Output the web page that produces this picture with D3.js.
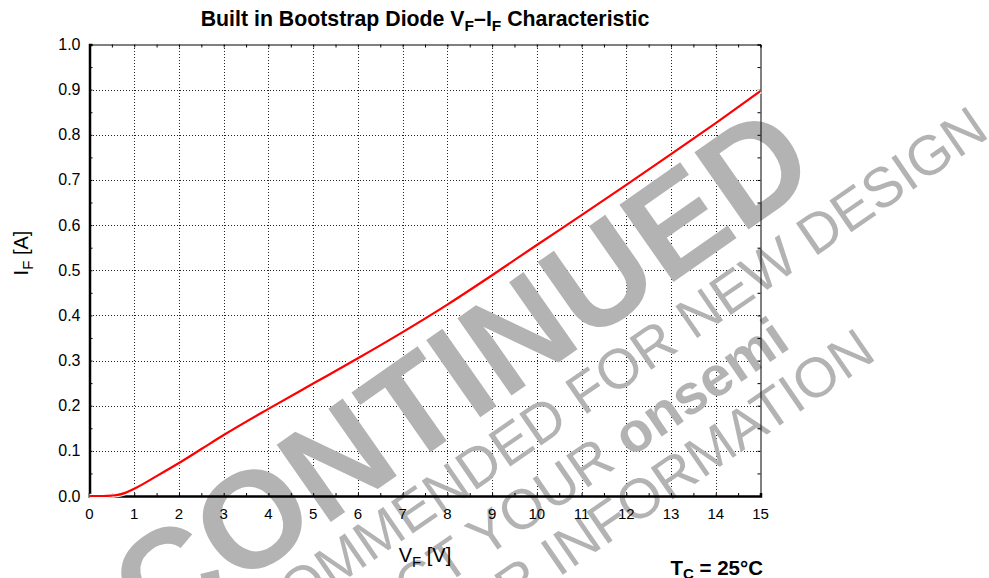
<!DOCTYPE html>
<html lang="en">
<head>
<meta charset="utf-8">
<title>Bootstrap diode VF-IF</title>
<style>
	body { margin: 0; background: #fff; }
	svg { display: block; font-family: "Liberation Sans", Arial, sans-serif; }
	.grid line { stroke: #222; stroke-width: 1; stroke-dasharray: 1,2; shape-rendering: crispEdges; }
	.wm { fill: #b3b3b3; }
</style>
</head>
<body>
<svg></svg>
<script src="https://d3js.org/d3.v7.min.js"></script>
<script>
	// curve
	var vfValues = [0, 0.3, 0.5, 0.6, 0.8, 1, 1.5, 2, 2.5, 3, 4, 5, 6, 7, 8, 9, 10, 11, 12, 13, 14, 15];
	var ifValues = [0, 0, 0.001, 0.002, 0.007, 0.016, 0.044, 0.073, 0.104, 0.135, 0.193, 0.249, 0.305, 0.363, 0.424, 0.489, 0.556, 0.622, 0.689, 0.757, 0.826, 0.897];

	var xTicks = d3.range(0, 16, 1);
	var yTicks = d3.range(0, 1.05, 0.1);
	var xMinor = d3.range(0, 15.01, 0.5);
	var yMinor = d3.range(0, 1.001, 0.05);

	// watermark lines (text, font size, bold, end point, angle)
	var wmLines = [
		{ text: "DISCONTINUED", size: 137, bold: true, x: 822, y: 178, angle: -35 },
		{ text: "NOT RECOMMENDED FOR NEW DESIGN", size: 56, x: 991, y: 136, angle: -34.5 },
		{ text: "CONTACT YOUR ", extra: "onsemi", size: 56, x: 792, y: 347, angle: -34.5 },
		{ text: "REPRESENTATIVE FOR INFORMATION", size: 56, x: 878, y: 358, angle: -34.5 }
	];

	var width = 989, height = 578;
	var margin = { left: 89.5, right: 989 - 760.5, top: 44.5, bottom: 578 - 496 };

	var svg = d3.select("svg").attr("width", width).attr("height", height);

	var x = d3.scaleLinear().domain([0, 15]).range([margin.left, width - margin.right]);
	var y = d3.scaleLinear().domain([0, 1]).range([height - margin.bottom, margin.top]);

	// grid
	var grid = svg.append("g").attr("class", "grid");
	grid.selectAll("line.v")
		.data(xTicks.slice(1, -1))
		.enter().append("line")
		.attr("x1", function(d) { return Math.round(x(d)) + 0.5; })
		.attr("x2", function(d) { return Math.round(x(d)) + 0.5; })
		.attr("y1", y(1)).attr("y2", y(0));
	grid.selectAll("line.h")
		.data(yTicks.slice(1, -1))
		.enter().append("line")
		.attr("y1", function(d) { return Math.round(y(d)) + 0.5; })
		.attr("y2", function(d) { return Math.round(y(d)) + 0.5; })
		.attr("x1", x(0)).attr("x2", x(15));

	// watermark sits over the grid, under axes and curve
	var wm = svg.append("g").attr("class", "wm");
	wmLines.forEach(function(l) {
		var t = wm.append("text")
			.attr("transform", "translate(" + l.x + "," + l.y + ") rotate(" + l.angle + ")")
			.attr("text-anchor", "end")
			.attr("font-size", l.size)
			.attr("font-weight", l.bold ? "bold" : "normal")
			.text(l.text);
		if (l.extra) t.append("tspan").attr("font-weight", "bold").text(l.extra);
	});

	// axes
	var axisBottom = svg.append("g")
		.attr("transform", "translate(0," + y(0) + ")")
		.call(d3.axisBottom(x).tickValues(xMinor).tickSize(-3).tickFormat(""));
	var axisTop = svg.append("g")
		.attr("transform", "translate(0," + y(1) + ")")
		.call(d3.axisTop(x).tickValues(xMinor).tickSize(-3).tickFormat(""));
	var axisLeft = svg.append("g")
		.attr("transform", "translate(" + x(0) + ",0)")
		.call(d3.axisLeft(y).tickValues(yMinor).tickSize(-3).tickFormat(""));
	var axisRight = svg.append("g")
		.attr("transform", "translate(" + x(15) + ",0)")
		.call(d3.axisRight(y).tickValues(yMinor).tickSize(-3).tickFormat(""));

	[axisBottom, axisTop, axisLeft, axisRight].forEach(function(a) {
		a.selectAll(".tick line").attr("stroke", "#000");
		a.select(".domain").attr("stroke", "#000");
	});
	axisBottom.select(".domain").attr("stroke-width", 2.5);
	axisLeft.select(".domain").attr("stroke-width", 2.5);

	// tick labels
	svg.append("g").selectAll("text")
		.data(xTicks)
		.enter().append("text")
		.attr("x", function(d) { return x(d); })
		.attr("y", y(0) + 23)
		.attr("text-anchor", "middle")
		.attr("font-size", 15)
		.text(function(d) { return d; });

	svg.append("g").selectAll("text")
		.data(yTicks)
		.enter().append("text")
		.attr("x", x(0) - 9)
		.attr("y", function(d) { return y(d) + 5.5; })
		.attr("text-anchor", "end")
		.attr("font-size", 16)
		.text(function(d) { return d3.format(".1f")(d); });

	// curve, white halo under red line
	var line = d3.line()
		.x(function(d, i) { return x(vfValues[i]); })
		.y(function(d) { return y(d); })
		.curve(d3.curveMonotoneX);

	svg.append("path")
		.attr("d", line(ifValues))
		.attr("fill", "none")
		.attr("stroke", "#fff")
		.attr("stroke-width", 4.5);
	svg.append("path")
		.attr("d", line(ifValues))
		.attr("fill", "none")
		.attr("stroke", "#ff0000")
		.attr("stroke-width", 2.2);

	// title and labels
	var title = svg.append("text")
		.attr("x", (x(0) + x(15)) / 2)
		.attr("y", 26)
		.attr("text-anchor", "middle")
		.attr("font-size", 21.3)
		.attr("font-weight", "bold");
	title.append("tspan").text("Built in Bootstrap Diode V");
	title.append("tspan").attr("font-size", 15.5).attr("dy", 5).text("F");
	title.append("tspan").attr("dy", -5).text("\u2013I");
	title.append("tspan").attr("font-size", 15.5).attr("dy", 5).text("F");
	title.append("tspan").attr("dy", -5).text(" Characteristic");

	var xLabel = svg.append("text")
		.attr("x", (x(0) + x(15)) / 2)
		.attr("y", 562)
		.attr("text-anchor", "middle")
		.attr("font-size", 20);
	xLabel.append("tspan").text("V");
	xLabel.append("tspan").attr("font-size", 15).attr("dy", 5).text("F");
	xLabel.append("tspan").attr("dy", -5).text(" [V]");

	var yLabel = svg.append("text")
		.attr("transform", "translate(28,253) rotate(-90)")
		.attr("text-anchor", "middle")
		.attr("font-size", 20);
	yLabel.append("tspan").text("I");
	yLabel.append("tspan").attr("font-size", 15).attr("dy", 5).text("F");
	yLabel.append("tspan").attr("dy", -5).text(" [A]");

	var tc = svg.append("text")
		.attr("x", 763)
		.attr("y", 575)
		.attr("text-anchor", "end")
		.attr("font-size", 20.5)
		.attr("font-weight", "bold");
	tc.append("tspan").text("T");
	tc.append("tspan").attr("font-size", 15).attr("dy", 4).text("C");
	tc.append("tspan").attr("dy", -4).text(" = 25\u00b0C");
</script>
</body>
</html>
